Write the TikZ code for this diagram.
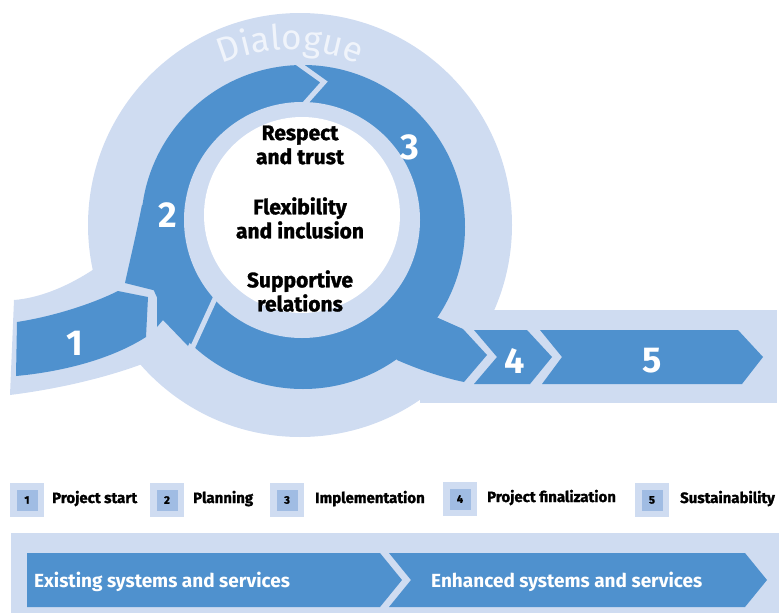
\documentclass[tikz,border=0pt]{standalone}
\usepackage{fontspec}
\setmainfont{Fira Sans}
\newfontfamily\heavyfont{Fira Sans}[BoldFeatures={FakeBold=1.4}]
\usetikzlibrary{decorations.text}
\definecolor{ringblue}{RGB}{79,145,206}
\definecolor{palering}{RGB}{207,220,241}
\definecolor{keyblue}{RGB}{160,188,227}
\definecolor{dialoguecol}{RGB}{240,244,251}

\begin{document}
\begin{tikzpicture}[x=1pt, y=-1pt,
    pale/.style={fill=palering},
    bluefill/.style={fill=ringblue},
    gap/.style={draw=palering, line width=5pt, line join=miter},
    num/.style={text=white, inner sep=0, font=\bfseries\fontsize{36}{36}\selectfont},
    core/.style={align=center, inner sep=0, font=\heavyfont\bfseries\fontsize{21}{24}\selectfont},
    keybox/.style={fill=keyblue, draw=palering, line width=6.5pt, minimum size=27.5pt, inner sep=0, font=\heavyfont\bfseries\fontsize{11}{11}\selectfont},
    keytext/.style={anchor=base west, inner sep=0, font=\heavyfont\bfseries\fontsize{15}{15}\selectfont},
    bandtext/.style={anchor=base west, inner sep=0, text=white, font=\bfseries\fontsize{19}{19}\selectfont}]
    \useasboundingbox (0,0) rectangle (779,613);

    % Light background: dialogue circle, lead-in band and exit band
    \fill[pale] (300,225) circle[radius=212];
    \fill[pale] (14,300) .. controls (40,298) and (70,286) .. (100,265) -- (200,300) -- (145,363) .. controls (100,380) and (50,390) .. (10,395) -- cycle;
    \fill[pale] (420,310) rectangle (777,403);
    \path[decorate, decoration={text along path, text align=center, text color=dialoguecol,
        text={|\fontsize{35}{35}\selectfont|Dialogue}}]
        (290,225) ++(230:175) arc[start angle=230, end angle=310, radius=175];

    % Blue cycle ring
    \fill[bluefill] (303,227) circle[radius=162];
    % Flare of arrow 2 towards arrow 1
    \fill[bluefill] (142,205) .. controls (136,235) and (130,260) .. (125,283) -- (157,291) -- (157,327) -- (163,320) -- (188,346) -- (207,305) -- (230,250) -- (200,200) -- cycle;
    % Head of arrow 3 leaving the ring
    \fill[bluefill] (436,317) -- (463,329) -- (487,355) -- (464,382) .. controls (440,377) and (415,368) .. (397,360) -- (380,330) -- cycle;

    % Inner rings
    \fill[pale] (302,220) circle[radius=118];
    \fill[white] (302,215) circle[radius=98];

    % Gaps between the arrows of the ring
    \draw[gap] (289,57) -- (324,82) -- (300,109);
    \draw[gap] (218,292) -- (190,353);

    % Arrow 1, 4 and 5
    \fill[bluefill] (17,322) .. controls (50,317) and (90,305) .. (118,291) -- (148,297) -- (146,337) .. controls (110,360) and (60,372) .. (16,376) -- cycle;
    \fill[bluefill] (474,330) -- (527,330) -- (552,357) -- (530,384) -- (474,384) -- (497,357) -- cycle;
    \fill[bluefill] (540,330) -- (738,330) -- (763,357) -- (742,384) -- (542,384) -- (562,357) -- cycle;

    % Step numbers
    \node[num] (n1) at (75,343) {1};
    \node[num] (n2) at (168,215) {2};
    \node[num] (n3) at (410,147) {3};
    \node[num] (n4) at (515,361) {4};
    \node[num] (n5) at (652,361) {5};

    % Values in the middle
    \node[core] (respect) at (300,145) {Respect\\and trust};
    \node[core] (flexible) at (300,218) {Flexibility\\and inclusion};
    \node[core] (support) at (300,291) {Supportive\\relations};

    % Legend
    \node[keybox] (k1) at (27,500) {1};
    \node[keytext] (l1) at (52,503) {Project start};
    \node[keybox] (k2) at (167,500) {2};
    \node[keytext] (l2) at (193,503) {Planning};
    \node[keybox] (k3) at (287,500) {3};
    \node[keytext] (l3) at (315,503) {Implementation};
    \node[keybox] (k4) at (460,499) {4};
    \node[keytext] (l4) at (487,502) {Project finalization};
    \node[keybox] (k5) at (652,500) {5};
    \node[keytext] (l5) at (680,503) {Sustainability};

    % Systems band
    \fill[pale] (11,533) rectangle (779,613);
    \fill[bluefill] (27,553) -- (380,553) -- (402,580) -- (380,607) -- (27,607) -- cycle;
    \fill[bluefill] (389,553) -- (745,553) -- (767,580) -- (745,607) -- (389,607) -- (411,580) -- cycle;
    \node[bandtext] (existing) at (34,587) {Existing systems and services};
    \node[bandtext] (enhanced) at (431,587) {Enhanced systems and services};
\end{tikzpicture}
\end{document}
